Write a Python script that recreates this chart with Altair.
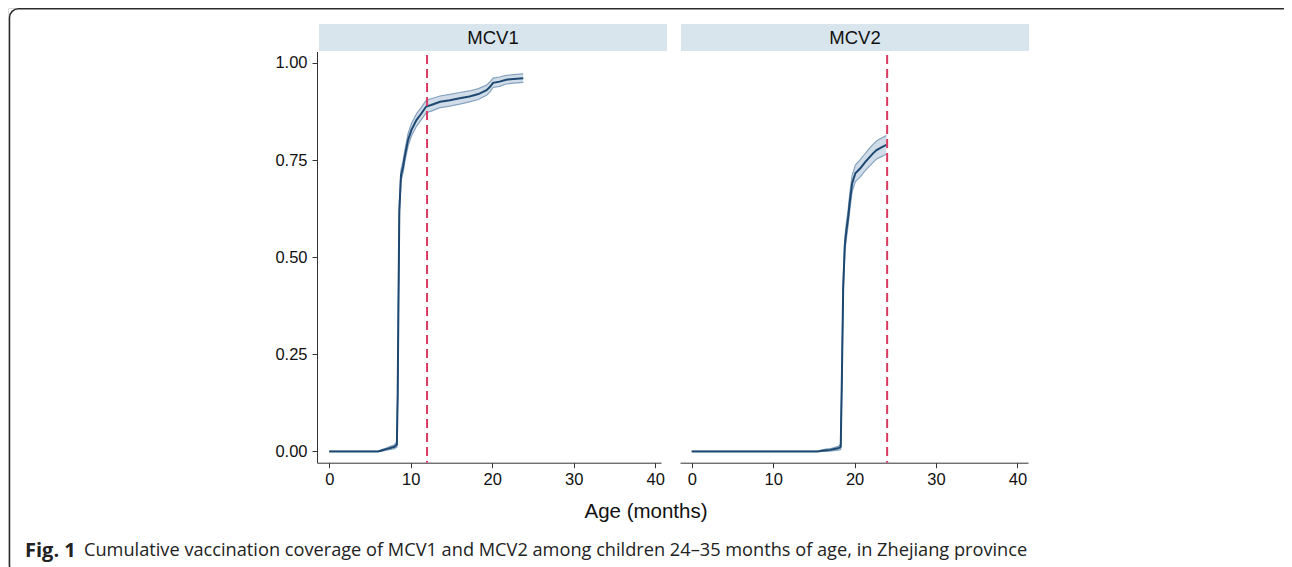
import altair as alt
import pandas as pd

# ---------------- data ----------------
panel_titles = ["MCV1", "MCV2"]
ref_ages = [12, 24]
x_ticks = [0, 10, 20, 30, 40]
y_ticks = [0.0, 0.25, 0.5, 0.75, 1.0]
x_title = "Age (months)"
caption_bold = "Fig. 1"
caption_text = ("Cumulative vaccination coverage of MCV1 and MCV2 among children "
                "24\u201335 months of age, in Zhejiang province")

mcv1_age = [0, 6.0, 6.5, 7.0, 7.5, 8.0, 8.3, 8.4, 8.5, 8.6, 8.8, 9.06, 9.26, 9.67,
            10.09, 10.7, 11.3, 11.9, 12.5, 13.6, 14.8, 16.0, 17.2, 18.3, 19.3, 19.7,
            20.1, 20.9, 21.7, 22.6, 23.8]
mcv1_cov = [0, 0, 0.003, 0.006, 0.009, 0.012, 0.018, 0.15, 0.40, 0.62, 0.71, 0.733,
            0.759, 0.802, 0.828, 0.853, 0.870, 0.888, 0.892, 0.900, 0.904, 0.909,
            0.914, 0.920, 0.930, 0.938, 0.949, 0.952, 0.957, 0.959, 0.961]
mcv1_lo = [0, 0, 0.001, 0.003, 0.005, 0.007, 0.011, 0.138, 0.386, 0.605, 0.695, 0.718,
           0.744, 0.786, 0.812, 0.837, 0.854, 0.872, 0.876, 0.885, 0.889, 0.894,
           0.900, 0.906, 0.917, 0.925, 0.937, 0.940, 0.946, 0.948, 0.950]
mcv1_hi = [0, 0, 0.005, 0.009, 0.013, 0.017, 0.025, 0.162, 0.414, 0.635, 0.725, 0.748,
           0.774, 0.818, 0.844, 0.869, 0.886, 0.904, 0.908, 0.915, 0.919, 0.924,
           0.928, 0.934, 0.943, 0.951, 0.961, 0.964, 0.968, 0.970, 0.972]

mcv2_age = [0, 15.5, 16.0, 16.5, 17.0, 17.5, 18.0, 18.3, 18.45, 18.6, 18.8, 19.0,
            19.2, 19.4, 19.7, 20.1, 20.7, 21.3, 21.9, 22.3, 22.7, 23.3, 23.9]
mcv2_cov = [0, 0, 0.002, 0.003, 0.004, 0.006, 0.008, 0.012, 0.20, 0.42, 0.53, 0.57,
            0.60, 0.64, 0.69, 0.716, 0.729, 0.745, 0.759, 0.768, 0.776, 0.783, 0.789]
mcv2_lo = [0, 0, 0, 0, 0.001, 0.002, 0.003, 0.005, 0.186, 0.402, 0.511, 0.550,
           0.580, 0.619, 0.669, 0.695, 0.707, 0.723, 0.736, 0.745, 0.753, 0.759, 0.765]
mcv2_hi = [0, 0, 0.004, 0.006, 0.007, 0.010, 0.013, 0.019, 0.214, 0.438, 0.549, 0.590,
           0.620, 0.661, 0.711, 0.737, 0.751, 0.767, 0.782, 0.791, 0.799, 0.807, 0.813]

# ---------------- layout / style ----------------
W, H = 1276, 559
AX_Y = 454.7            # pixel row of the x axes
Y_DOMAIN = [-0.029, 1.0296]
Y_RANGE = [AX_Y, 43.5]
FONT = "Liberation Sans"
NAVY = "#1c4872"
BAND_FILL = "#d0dce7"
BAND_EDGE = "#86a2bf"
RED = "#d93a62"
AXIS_COL = "#333333"

panels = [
    dict(age=mcv1_age, cov=mcv1_cov, lo=mcv1_lo, hi=mcv1_hi, ref=ref_ages[0],
         dom=[-1.5, 40.7], rng=[309, 653], show_y=True),
    dict(age=mcv2_age, cov=mcv2_cov, lo=mcv2_lo, hi=mcv2_hi, ref=ref_ages[1],
         dom=[-1.44, 41.3], rng=[672, 1020], show_y=False),
]


def make_panel(p):
    df = pd.DataFrame({"age": p["age"], "cov": p["cov"], "lo": p["lo"], "hi": p["hi"]})
    xs = alt.Scale(domain=p["dom"], range=p["rng"], nice=False, zero=False)
    ys = alt.Scale(domain=Y_DOMAIN, range=Y_RANGE, nice=False, zero=False)
    xaxis = alt.Axis(values=x_ticks, orient="bottom", offset=AX_Y - H, title=None,
                     grid=False, tickSize=5, tickColor=AXIS_COL, domainColor=AXIS_COL,
                     labelFont=FONT, labelFontSize=16.5, labelColor="#111111",
                     labelPadding=4, format="d", labelFlush=False)
    if p["show_y"]:
        yaxis = alt.Axis(values=y_ticks, orient="left", offset=-309, title=None,
                         grid=False, tickSize=5, tickColor=AXIS_COL,
                         domainColor=AXIS_COL, labelFont=FONT, labelFontSize=16.5,
                         labelColor="#111111", labelPadding=5, format=".2f")
    else:
        yaxis = None

    def X():
        return alt.X("age:Q", scale=xs, axis=xaxis)

    def Y(field):
        return alt.Y(field, scale=ys, axis=yaxis)

    base = alt.Chart(df)
    band = base.mark_area(color=BAND_FILL, opacity=1).encode(
        x=X(), y=Y("lo:Q"), y2="hi:Q")
    lo_line = base.mark_line(color=BAND_EDGE, strokeWidth=1.2).encode(x=X(), y=Y("lo:Q"))
    hi_line = base.mark_line(color=BAND_EDGE, strokeWidth=1.2).encode(x=X(), y=Y("hi:Q"))
    main = base.mark_line(color=NAVY, strokeWidth=2).encode(x=X(), y=Y("cov:Q"))
    rule = alt.Chart(pd.DataFrame({"age": [p["ref"]]})).mark_rule(
        color=RED, strokeWidth=2, strokeDash=[9, 5]).encode(
        x=X(), y=alt.value(47), y2=alt.value(AX_Y))
    return alt.layer(band, lo_line, hi_line, main, rule)


one = alt.Data(values=[{"k": 0}])

# figure frame
frame = alt.Chart(one).mark_rect(fillOpacity=0, stroke="#2b2b2b", strokeWidth=1.5,
                                 cornerRadius=9).encode(
    x=alt.value(1.5), x2=alt.value(1288), y=alt.value(0.75), y2=alt.value(566))

# strips
strip_layers = []
for title, x0, x1 in [(panel_titles[0], 311, 659), (panel_titles[1], 673, 1021)]:
    strip_layers.append(alt.Chart(one).mark_rect(color="#d8e5ec").encode(
        x=alt.value(x0), x2=alt.value(x1), y=alt.value(16), y2=alt.value(43)))
    strip_layers.append(alt.Chart(one).mark_text(
        text=title, font=FONT, fontSize=18.5, color="#111111", align="center",
        baseline="middle").encode(x=alt.value((x0 + x1) / 2), y=alt.value(30)))

xlabel = alt.Chart(one).mark_text(text=x_title, font=FONT, fontSize=20.5, color="#111111",
                                  align="center", baseline="middle").encode(
    x=alt.value(638), y=alt.value(504))

cap1 = alt.Chart(one).mark_text(text=caption_bold, font="Open Sans", fontWeight="bold",
                                fontSize=20, color="#222222", align="left",
                                baseline="middle").encode(x=alt.value(17), y=alt.value(543))
cap2 = alt.Chart(one).mark_text(text=caption_text, font="Open Sans", fontSize=18.2,
                                color="#222222", align="left",
                                baseline="middle").encode(x=alt.value(76), y=alt.value(543))

chart = alt.layer(
    frame, *strip_layers, make_panel(panels[0]), make_panel(panels[1]),
    xlabel, cap1, cap2,
).resolve_scale(x="independent").resolve_axis(x="independent", y="independent").properties(
    width=W, height=H, padding=0,
    autosize=alt.AutoSizeParams(type="none"),
).configure_view(stroke=None).configure(background="white")

chart.save("out.html", embed_options={"renderer": "svg", "actions": False})
